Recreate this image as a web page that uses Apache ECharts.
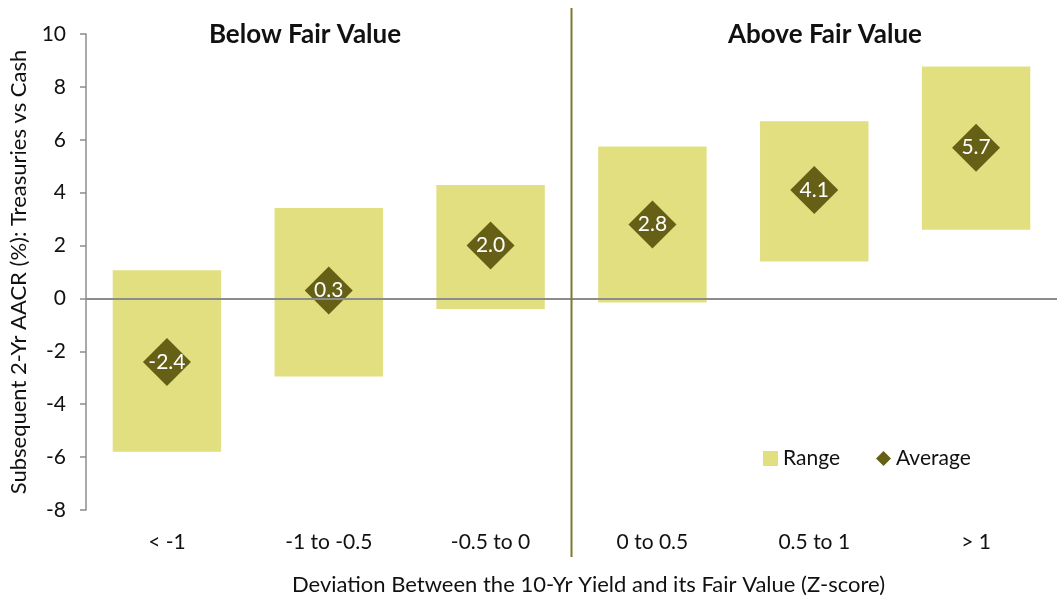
<!DOCTYPE html>
<html><head><meta charset="utf-8">
<script src="https://cdn.jsdelivr.net/npm/echarts@6/dist/echarts.min.js"></script>
<style>html,body{margin:0;padding:0;background:#fff}#c{width:1058px;height:601px}</style>
</head><body><div id="c"></div>
<script>
const categories = ['< -1', '-1 to -0.5', '-0.5 to 0', '0 to 0.5', '0.5 to 1', '> 1'];
const rangeLow  = [-5.8, -2.95, -0.4, -0.15, 1.4, 2.6];
const rangeHigh = [1.07, 3.42, 4.29, 5.75, 6.7, 8.77];
const averages  = [-2.4, 0.3, 2.0, 2.8, 4.1, 5.7];
const yTicks = {min: -8, max: 10, interval: 2};
const groupTitles = ['Below Fair Value', 'Above Fair Value'];

const FONT = 'Lato';
const BAR = '#e1df80';
const DIA = '#656016';

const chart = echarts.init(document.getElementById('c'), null, {renderer: 'canvas'});
const rangeData = categories.map((c, i) => [i, rangeLow[i], rangeHigh[i]]);

const option = {
  animation: false,
  textStyle: {fontFamily: FONT},
  grid: {left: 82, right: 1, top: 34, bottom: 88},
  legend: {
    left: 758, top: 443, itemGap: 36, itemWidth: 15, itemHeight: 15,
    textStyle: {fontFamily: FONT, fontSize: 21, color: '#111'},
    data: [
      {name: 'Range', icon: 'rect', itemStyle: {color: BAR}},
      {name: 'Average', icon: 'diamond', itemStyle: {color: DIA}}
    ]
  },
  xAxis: {
    type: 'category', data: categories,
    axisLine: {show: false}, axisTick: {show: false},
    axisLabel: {fontSize: 21, color: '#111', margin: 22, fontFamily: FONT},
    name: 'Deviation Between the 10-Yr Yield and its Fair Value (Z-score)',
    nameLocation: 'middle', nameGap: 64,
    nameTextStyle: {fontSize: 22, color: '#111', fontFamily: FONT, padding: [0, 0, 0, 34]}
  },
  yAxis: {
    type: 'value', min: yTicks.min, max: yTicks.max, interval: yTicks.interval,
    axisLine: {show: true, lineStyle: {color: '#8c8c8c', width: 1.5}},
    axisTick: {show: true, length: 6, lineStyle: {color: '#8c8c8c', width: 1.5}},
    splitLine: {show: false},
    axisLabel: {fontSize: 21, color: '#111', margin: 20, fontFamily: FONT},
    name: 'Subsequent 2-Yr AACR (%): Treasuries vs Cash',
    nameLocation: 'middle', nameGap: 56,
    nameTextStyle: {fontSize: 22, color: '#111', fontFamily: FONT}
  },
  series: [
    {
      name: 'Range', type: 'custom', data: rangeData,
      itemStyle: {color: BAR},
      encode: {x: 0, y: [1, 2]},
      renderItem: function (params, api) {
        const lo = api.coord([api.value(0), api.value(1)]);
        const hi = api.coord([api.value(0), api.value(2)]);
        const w = api.size([1, 0])[0] * 0.67;
        return {
          type: 'rect',
          shape: {x: lo[0] - w / 2, y: hi[1], width: w, height: lo[1] - hi[1]},
          style: {fill: BAR}
        };
      },
      markLine: {
        silent: true, symbol: 'none', label: {show: false},
        lineStyle: {color: '#8c8c8c', width: 2, type: 'solid'},
        data: [{yAxis: 0}]
      },
      z: 2
    },
    {
      name: 'Average', type: 'scatter', data: averages,
      symbol: 'diamond', symbolSize: 48,
      itemStyle: {color: DIA, opacity: 1},
      label: {show: true, position: 'inside', color: '#fff', fontSize: 21, fontFamily: FONT,
              formatter: p => p.value.toFixed(1)},
      z: 3
    }
  ]
};
chart.setOption(option);

const x2 = chart.convertToPixel({xAxisIndex: 0}, categories[2]);
const x3 = chart.convertToPixel({xAxisIndex: 0}, categories[3]);
const xDiv = (x2 + x3) / 2;
chart.setOption({
  graphic: [
    {type: 'line', shape: {x1: xDiv, y1: 8, x2: xDiv, y2: 557}, style: {stroke: '#7d7a2e', lineWidth: 2}, z: 10},
    {type: 'text', x: 305, y: 35, style: {text: groupTitles[0], fontFamily: FONT, fontSize: 26, fontWeight: 'bold', fill: '#111', textAlign: 'center', textVerticalAlign: 'middle'}},
    {type: 'text', x: 825, y: 35, style: {text: groupTitles[1], fontFamily: FONT, fontSize: 26, fontWeight: 'bold', fill: '#111', textAlign: 'center', textVerticalAlign: 'middle'}}
  ]
});
</script></body></html>
